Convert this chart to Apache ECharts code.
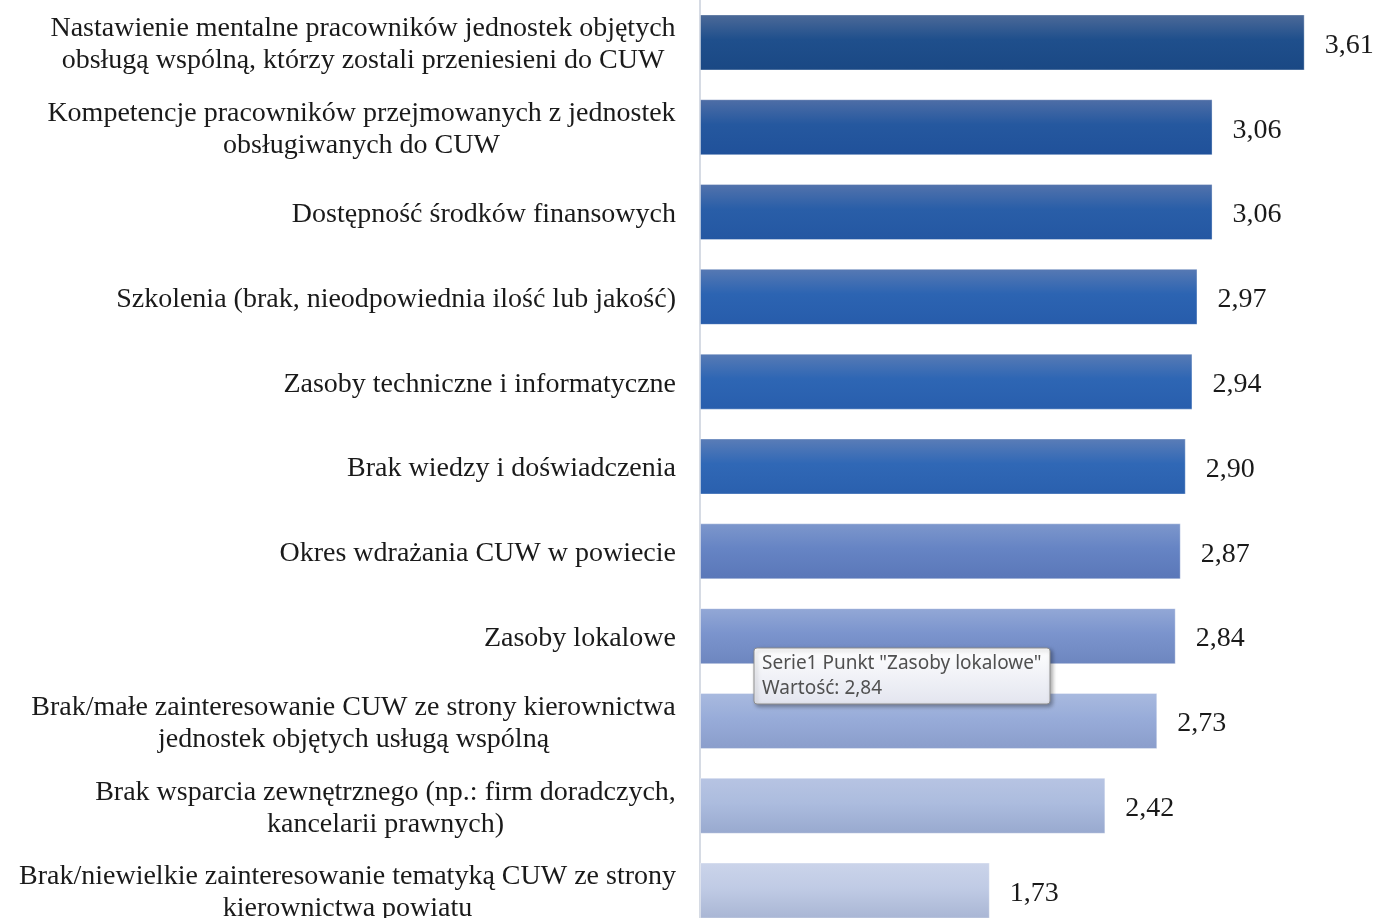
<!DOCTYPE html>
<html>
<head>
<meta charset="utf-8">
<script src="https://cdn.jsdelivr.net/npm/echarts@6/dist/echarts.min.js"></script>
<style>
  html, body { margin: 0; padding: 0; background: #ffffff; overflow: hidden; }
  #chart { width: 1387px; height: 933px; }
</style>
</head>
<body>
<div id="chart"></div>
<script>
// Barriers to implementing a shared services centre (CUW) – mean ratings
const categories = [
  'Nastawienie mentalne pracowników jednostek objętych\nobsługą wspólną, którzy zostali przeniesieni do CUW',
  'Kompetencje pracowników przejmowanych z jednostek\nobsługiwanych do CUW',
  'Dostępność środków finansowych',
  'Szkolenia (brak, nieodpowiednia ilość lub jakość)',
  'Zasoby techniczne i informatyczne',
  'Brak wiedzy i doświadczenia',
  'Okres wdrażania CUW w powiecie',
  'Zasoby lokalowe',
  'Brak/małe zainteresowanie CUW ze strony kierownictwa\njednostek objętych usługą wspólną',
  'Brak wsparcia zewnętrznego (np.: firm doradczych,\nkancelarii prawnych)',
  'Brak/niewielkie zainteresowanie tematyką CUW ze strony\nkierownictwa powiatu'
];
const values = [3.61, 3.06, 3.06, 2.97, 2.94, 2.90, 2.87, 2.84, 2.73, 2.42, 1.73];

// Tooltip text shown for the hovered bar
const tipLines = ['Serie1 Punkt "Zasoby lokalowe"', 'Wartość: 2,84'];

// Per-bar gradient stops (top, middle, bottom), dark navy fading to pale blue
const barShades = [
  ['#4d6a98', '#1f4f8c', '#1a4884'],
  ['#4f6ea6', '#25589f', '#20519a'],
  ['#5373ac', '#295ea8', '#2457a2'],
  ['#5779b3', '#2c64b2', '#275cab'],
  ['#587bb5', '#2e66b4', '#285ead'],
  ['#5b7db7', '#3068b6', '#2a60ae'],
  ['#7d97cc', '#6684c4', '#5a77b8'],
  ['#93a8d6', '#7b94cd', '#6d86bf'],
  ['#a9badf', '#98acd9', '#8a9dcb'],
  ['#b7c4e3', '#acbcde', '#98a9cf'],
  ['#cbd4ea', '#c0cbe5', '#a9b6d4']
];

const LABEL_FONT = 'Liberation Serif';
const LABEL_SIZE = 28;
const LABEL_LH = 32;

const fmt = v => v.toFixed(2).replace('.', ',');

// Multi-line category labels: block sits right-aligned against the axis,
// while the lines inside the block are centred on each other.
const measureCtx = document.createElement('canvas').getContext('2d');
measureCtx.font = LABEL_SIZE + 'px "' + LABEL_FONT + '"';
const richStyles = {};
categories.forEach((c, i) => {
  const lines = c.split('\n');
  if (lines.length > 1) {
    const w = Math.max(...lines.map(l => measureCtx.measureText(l).width));
    richStyles['c' + i] = {
      width: Math.ceil(w),
      align: 'center',
      fontFamily: LABEL_FONT,
      fontSize: LABEL_SIZE,
      lineHeight: LABEL_LH,
      color: '#1a1a1a'
    };
  }
});

const chart = echarts.init(document.getElementById('chart'), null, { renderer: 'canvas' });

chart.setOption({
  animation: false,
  backgroundColor: '#ffffff',
  grid: { left: 700, width: 670, top: 0, height: 933, containLabel: false },
  xAxis: {
    type: 'value',
    min: 0,
    max: 4,
    show: false
  },
  yAxis: {
    type: 'category',
    inverse: true,
    data: categories,
    axisLine: { show: true, lineStyle: { color: '#d6dbe4', width: 2 } },
    axisTick: { show: false },
    splitLine: { show: false },
    axisLabel: {
      margin: 24,
      fontFamily: LABEL_FONT,
      fontSize: LABEL_SIZE,
      lineHeight: LABEL_LH,
      color: '#1a1a1a',
      align: 'right',
      padding: [5, 0, 0, 0],
      rich: richStyles,
      formatter: (val) => {
        const i = categories.indexOf(val);
        const lines = val.split('\n');
        if (lines.length === 1) return val;
        return lines.map(l => '{c' + i + '|' + l + '}').join('\n');
      }
    }
  },
  series: [{
    type: 'bar',
    barWidth: 56,
    data: values.map((v, i) => ({
      value: v,
      itemStyle: {
        color: new echarts.graphic.LinearGradient(0, 0, 0, 1, [
          { offset: 0, color: barShades[i][0] },
          { offset: 0.45, color: barShades[i][1] },
          { offset: 1, color: barShades[i][2] }
        ]),
        borderColor: 'rgba(255,255,255,0.35)',
        borderWidth: 1
      }
    })),
    label: {
      show: true,
      position: 'right',
      distance: 20,
      offset: [0, 3],
      fontFamily: LABEL_FONT,
      fontSize: LABEL_SIZE,
      color: '#1a1a1a',
      formatter: p => fmt(p.value)
    }
  }],
  graphic: [
    {
      type: 'rect',
      z: 100,
      zlevel: 1,
      shape: { x: 754, y: 648, width: 296, height: 56, r: 3 },
      style: {
        fill: new echarts.graphic.LinearGradient(0, 0, 0, 1, [
          { offset: 0, color: '#ffffff' },
          { offset: 1, color: '#e3e5ef' }
        ]),
        stroke: '#8f8f8f',
        lineWidth: 1,
        shadowBlur: 4,
        shadowOffsetX: 2,
        shadowOffsetY: 2,
        shadowColor: 'rgba(0,0,0,0.35)'
      }
    },
    {
      type: 'text',
      z: 101,
      zlevel: 1,
      x: 762,
      y: 651,
      style: {
        text: tipLines.join('\n'),
        fontFamily: 'Noto Sans',
        fontSize: 19,
        lineHeight: 25,
        fill: '#505050'
      }
    }
  ]
});
</script>
</body>
</html>
